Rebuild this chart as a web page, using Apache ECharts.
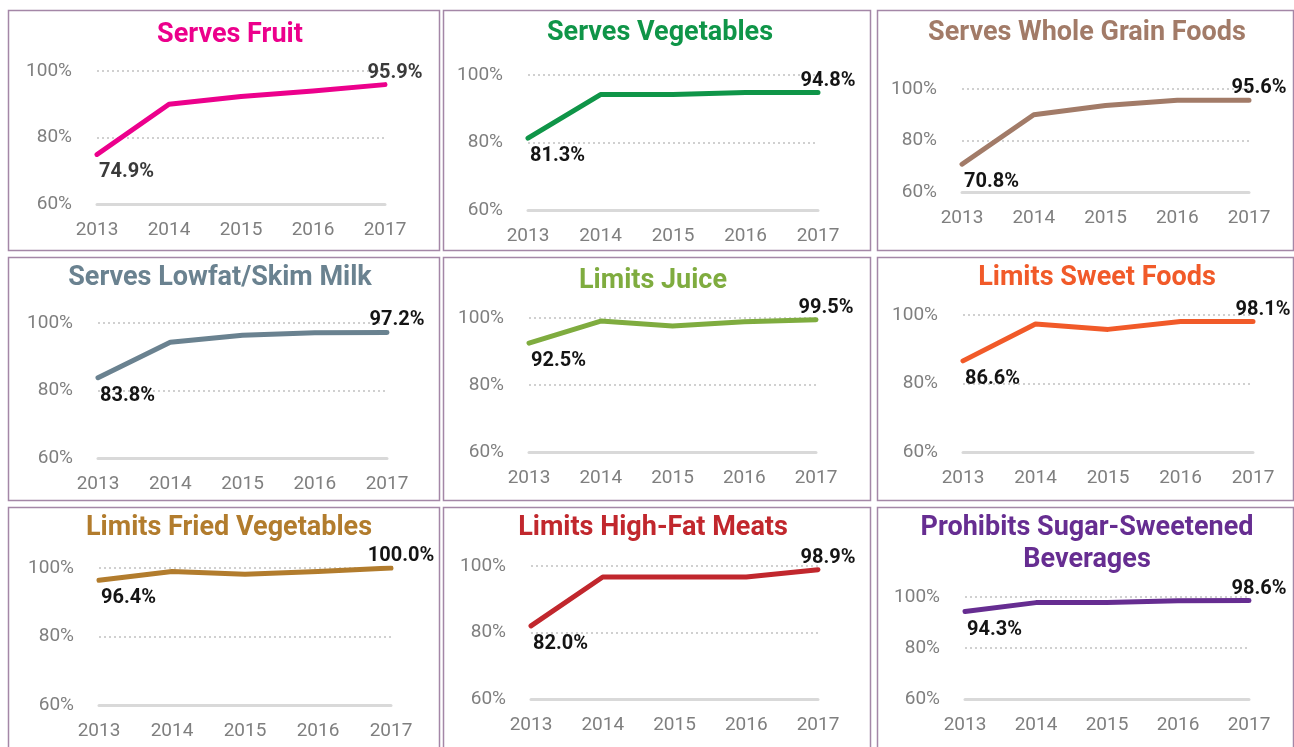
<!DOCTYPE html>
<html>
<head>
<meta charset="utf-8">
<title>Nutrition practices 2013–2017</title>
<script src="https://cdn.jsdelivr.net/npm/echarts@6/dist/echarts.min.js"></script>
<style>
  html, body { margin: 0; padding: 0; background: #fff; }
  #chart { width: 1294px; height: 747px; }
</style>
</head>
<body>
<div id="chart"></div>
<script>
// ---- data ----
const YEARS = ['2013', '2014', '2015', '2016', '2017'];
const Y_MIN = 60, Y_MAX = 100, Y_STEP = 20;

const TITLES = [
  'Serves Fruit', 'Serves Vegetables', 'Serves Whole Grain Foods',
  'Serves Lowfat/Skim Milk', 'Limits Juice', 'Limits Sweet Foods',
  'Limits Fried Vegetables', 'Limits High-Fat Meats', 'Prohibits Sugar-Sweetened\nBeverages',
];

const fruit        = [74.9, 90.0, 92.3, 94.0, 95.9];
const vegetables   = [81.3, 94.2, 94.2, 94.8, 94.8];
const wholeGrain   = [70.8, 90.0, 93.6, 95.6, 95.6];
const lowfatMilk   = [83.8, 94.3, 96.4, 97.1, 97.2];
const juice        = [92.5, 99.1, 97.6, 98.9, 99.5];
const sweetFoods   = [86.6, 97.4, 95.8, 98.1, 98.1];
const friedVeg     = [96.4, 99.0, 98.2, 99.0, 100.0];
const highFatMeats = [82.0, 96.7, 96.7, 96.7, 98.9];
const sugarBev     = [94.3, 97.8, 97.8, 98.5, 98.6];

const SERIES = [fruit, vegetables, wholeGrain, lowfatMilk, juice, sweetFoods, friedVeg, highFatMeats, sugarBev];

// ---- look ----
const COLORS = ['#ec008c', '#0f9548', '#a27b68', '#6a8290', '#7fac3f', '#f15a29', '#b27c2d', '#c1272d', '#662d91'];
const BORDER = '#a487a7';
const FONT = 'Roboto, "Noto Sans", sans-serif';

// box: panel frame; plot: [x1, y1, x2, y2] of the plot area; tx/ty: title centre
const PANELS = [
  { box: [8, 10, 431, 240],   plot: [97, 71, 385, 204],    tx: 230,  ty: 35 },
  { box: [443, 10, 427, 240], plot: [528, 75, 818, 210],   tx: 660,  ty: 33 },
  { box: [877, 10, 416, 240], plot: [962, 89, 1249, 192],  tx: 1087, ty: 33 },
  { box: [8, 257, 431, 243],  plot: [98, 323, 387, 458],   tx: 220,  ty: 278 },
  { box: [443, 257, 427, 243],plot: [529, 318, 816, 452],  tx: 653,  ty: 281 },
  { box: [877, 257, 416, 243],plot: [963, 315, 1253, 452], tx: 1097, ty: 278 },
  { box: [8, 507, 431, 260],  plot: [99, 568, 391, 705],   tx: 229,  ty: 528 },
  { box: [443, 507, 427, 260],plot: [531, 566, 818, 699],  tx: 653,  ty: 528 },
  { box: [877, 507, 416, 260],plot: [965, 597, 1249, 699], tx: 1087, ty: 544 },
];

const chart = echarts.init(document.getElementById('chart'), null, { renderer: 'canvas' });

const title = [], grid = [], xAxis = [], yAxis = [], series = [], graphic = [];

const endLabel = (first) => first
  ? { show: true, position: [3, 19], align: 'left', verticalAlign: 'middle' }
  : { show: true, position: [11, -11], align: 'center', verticalAlign: 'middle' };

PANELS.forEach((p, i) => {
  const [x1, y1, x2, y2] = p.plot;
  const twoLine = TITLES[i].includes('\n');

  graphic.push({
    type: 'rect', z: -1, silent: true,
    shape: { x: p.box[0] + 0.5, y: p.box[1] + 0.5, width: p.box[2], height: p.box[3] },
    style: { fill: 'none', stroke: BORDER, lineWidth: 1.5 },
  });

  title.push({
    text: TITLES[i], left: p.tx, top: p.ty - (twoLine ? 32 : 16), textAlign: 'center', padding: 0,
    textStyle: { color: COLORS[i], fontFamily: FONT, fontWeight: 'bold', fontSize: 27, lineHeight: 32 },
  });

  grid.push({ left: x1, top: y1, width: x2 - x1, height: y2 - y1, containLabel: false, outerBoundsMode: 'none' });

  xAxis.push({
    type: 'category', gridIndex: i, data: YEARS, boundaryGap: false,
    axisLine: { lineStyle: { color: '#d9d9d9', width: 3 } },
    axisTick: { show: false },
    axisLabel: { color: '#7f7f7f', fontFamily: FONT, fontSize: 19, margin: 17 },
  });

  yAxis.push({
    type: 'value', gridIndex: i, min: Y_MIN, max: Y_MAX, interval: Y_STEP,
    axisLine: { show: false }, axisTick: { show: false },
    axisLabel: { color: '#7f7f7f', fontFamily: FONT, fontSize: 19, margin: 25, formatter: '{value}%' },
    splitLine: { lineStyle: { color: '#d0d0d0', width: 2, type: [2, 3] } },
  });

  const vals = SERIES[i];
  const last = vals.length - 1;
  series.push({
    type: 'line', xAxisIndex: i, yAxisIndex: i, smooth: false,
    symbol: 'circle', symbolSize: 2, showSymbol: true,
    itemStyle: { color: COLORS[i] },
    lineStyle: { color: COLORS[i], width: 5, cap: 'round', join: 'round' },
    label: { show: false, color: i === 0 ? '#3a3a3a' : '#141414', fontFamily: FONT, fontWeight: 'bold', fontSize: 20,
      formatter: (d) => d.value.toFixed(1) + '%' },
    data: vals.map((v, k) => (k === 0 || k === last) ? { value: v, label: endLabel(k === 0) } : v),
    emphasis: { disabled: true },
  });
});

chart.setOption({ animation: false, title, grid, xAxis, yAxis, series, graphic });
</script>
</body>
</html>
